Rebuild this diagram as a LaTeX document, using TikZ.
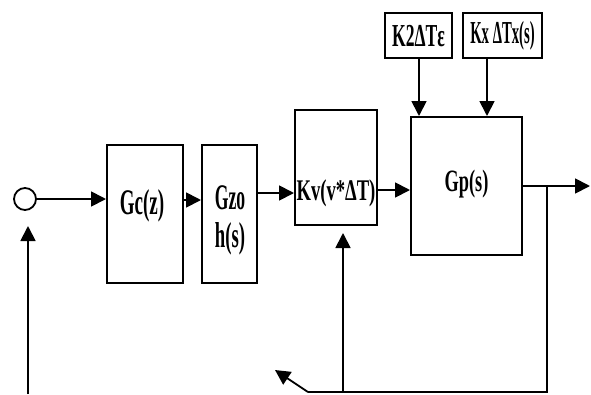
\documentclass[tikz,border=0pt]{standalone}
\usepackage{fontspec}
\setmainfont{Liberation Serif}
\usepackage{graphicx}
\usetikzlibrary{arrows.meta}
% condensed label text
\newcommand\narrowtext[2][0.53]{\scalebox{#1}[1]{#2}}
\begin{document}
\begin{tikzpicture}[x=1pt,y=-1pt,
  blk/.style={draw, line width=2pt, inner sep=0pt},
  lbl/.style={font=\fontsize{36}{38}\selectfont\bfseries, inner sep=0pt},
  slbl/.style={font=\fontsize{32}{34}\selectfont\bfseries, inner sep=0pt},
  wire/.style={line width=1.8pt},
  arr/.style={line width=1.8pt, -{Triangle[length=15pt,width=15pt]}}]
\useasboundingbox[fill=white] (0,0) rectangle (591,394);

% summing point
\node[draw, circle, line width=1.8pt, minimum size=22pt, inner sep=0pt] (circ) at (25,199) {};

% forward path blocks
\node[blk, minimum width=76pt, minimum height=138pt] (gc) at (145,214) {};
\node[lbl] (gctxt) at (142,206) {\narrowtext{Gc(z)}};
\node[blk, minimum width=55pt, minimum height=138pt] (gz) at (229.5,214) {};
\node[lbl] (gztxt1) at (230,198) {\narrowtext[0.49]{Gzo}};
\node[lbl] (gztxt2) at (230,239) {\narrowtext[0.52]{h(s)}};
\node[blk, minimum width=82pt, minimum height=115pt] (kv) at (336,167.5) {};
\node[slbl, font=\fontsize{30}{32}\selectfont\bfseries] (kvtxt) at (336,193) {\narrowtext[0.62]{Kv(v*ΔT)}};
\node[blk, minimum width=111pt, minimum height=138pt] (gp) at (466.5,186) {};
\node[lbl, font=\fontsize{31}{33}\selectfont\bfseries] (gptxt) at (466.5,184) {\narrowtext[0.59]{Gp(s)}};

% disturbance blocks
\node[blk, line width=1.6pt, minimum width=67pt, minimum height=45pt] (k2) at (418.5,35.5) {};
\node[slbl] (k2txt) at (418.5,36) {\narrowtext[0.55]{K2ΔTε}};
\node[blk, line width=1.6pt, minimum width=79pt, minimum height=45pt] (kx) at (502.5,35.5) {};
\node[slbl] (kxtxt) at (502.5,36) {\narrowtext[0.46]{Kx ΔTx(s)}};

% free ends of the connectors
\coordinate (outend) at (590,186);
\coordinate (tap) at (547,186);
\coordinate (fbc) at (547,392);
\coordinate (fbm) at (343,392);
\coordinate (fbl) at (308,392);
\coordinate (fbt) at (275,370);
\coordinate (kvin) at (343,233);
\coordinate (lb) at (28,394);
\coordinate (cin) at (28,226);

% forward connections
\draw[arr] (circ.east) -- (circ.east -| gc.west);
\draw[arr] ([yshift=14pt]gc.east) -- ([yshift=14pt]gz.west);
\draw[arr] ([yshift=21pt]gz.east) -- ([yshift=21pt]gz.east -| kv.west);
\draw[arr] ([yshift=-22.5pt]kv.east) -- ([yshift=-22.5pt]kv.east -| gp.west);
\draw[arr] (gp.east) -- (outend);
\draw[arr] ([xshift=0.5pt]k2.south) -- ([xshift=0.5pt]k2.south |- gp.north);
\draw[arr] ([xshift=-15.5pt]kx.south) -- ([xshift=-15.5pt]kx.south |- gp.north);

% feedback paths
\draw[wire] (tap) -- (fbc) -- (fbl);
\draw[arr] (fbl) -- (fbt);
\draw[arr] (fbm) -- (kvin);
\draw[arr] (lb) -- (cin);
\end{tikzpicture}
\end{document}
